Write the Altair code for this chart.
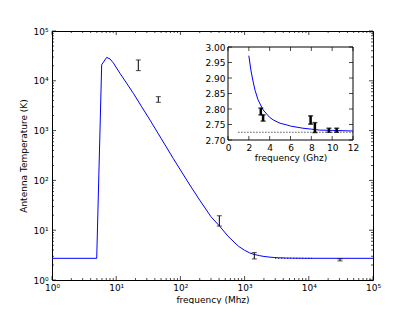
import altair as alt
import pandas as pd

# ---------------- data ----------------
# main curve: frequency (MHz) vs antenna temperature (K)
curve_freq_mhz = [1, 4.97, 5.94, 7.1, 8.0, 9.0, 11.5, 14.5, 18.5, 25, 33.7, 50, 77.5,
                  100, 150, 200, 300, 414, 550, 800, 1000, 1200, 1400, 1700, 2000, 2400,
                  2880, 3370, 4330, 5600, 7200, 8800, 12000, 30000, 100000]
curve_temp_k = [2.725, 2.725, 2.1e4, 2.95e4, 2.75e4, 2.3e4, 1.4e4, 9.0e3, 5.6e3, 3.0e3,
                1.62e3, 700, 275, 162, 70.7, 40, 18.6, 11.8, 7.6, 4.77, 3.95, 3.5, 3.27,
                3.09, 2.97, 2.89, 2.83, 2.797, 2.765, 2.749, 2.738, 2.732, 2.729, 2.726,
                2.725]

# main error bars
main_eb_freq = [22.1, 45.3, 404, 1416, 30600]
main_eb_lo = [1.6e4, 3.7e3, 12.1, 2.65, 2.42]
main_eb_hi = [2.62e4, 4.8e3, 19.5, 3.55, 2.66]

# reference level (dotted)
main_ref_freq = [3000, 12000]
main_ref_temp = [2.725, 2.725]

# inset curve: frequency (GHz) vs temperature (K)
inset_freq_ghz = [2.0, 2.2, 2.4, 2.6, 2.88, 3.37, 4.0, 4.33, 5.0, 5.6, 6.0, 7.2, 8.0,
                  8.8, 10.0, 12.0]
inset_temp_k = [2.972, 2.925, 2.89, 2.86, 2.83, 2.797, 2.773, 2.765, 2.754, 2.749,
                2.745, 2.738, 2.735, 2.732, 2.731, 2.729]

# inset error bars
inset_eb_freq = [3.15, 3.37, 7.93, 8.34, 9.69, 10.43]
inset_eb_lo = [2.781, 2.761, 2.751, 2.724, 2.725, 2.725]
inset_eb_hi = [2.803, 2.781, 2.778, 2.756, 2.738, 2.738]

inset_ref_freq = [1, 12]
inset_ref_temp = [2.725, 2.725]

# tick values
main_major = [1, 10, 100, 1000, 10000, 100000]
main_minor = [m * d for d in main_major[:-1] for m in range(2, 10)]
inset_x_ticks = [0, 2, 4, 6, 8, 10, 12]
inset_y_ticks = [2.70, 2.75, 2.80, 2.85, 2.90, 2.95, 3.00]

# ---------------- chart ----------------
W, H = 321, 249
FONT = "DejaVu Sans"
BLUE = "#0000ff"

xs = alt.Scale(type="log", domain=[1, 1e5])
ys = alt.Scale(type="log", domain=[1, 1e5])
sup = "'10' + ['\u2070','\u00b9','\u00b2','\u00b3','\u2074','\u2075'][round(log(datum.value)/LN10)]"
xax = alt.Axis(values=main_major, labelExpr=sup, ticks=False, domain=False, grid=False,
               title="frequency (Mhz)", labelPadding=3, titlePadding=3, labelFlush=False,
               orient="bottom")
yax = alt.Axis(values=main_major, labelExpr=sup, ticks=False, domain=False, grid=False,
               title="Antenna Temperature (K)", labelPadding=4, titlePadding=4,
               labelFlush=False, orient="left")

ixs = alt.Scale(domain=[0, 12], range=[176, 301], nice=False, zero=False)
iys = alt.Scale(domain=[2.7, 3.0], range=[109, 16], nice=False, zero=False)
ixax = alt.Axis(orient="bottom", offset=-140, values=inset_x_ticks, format="d", ticks=False,
                domain=False, grid=False, title="frequency (Ghz)", labelPadding=3,
                titlePadding=1, labelFlush=False)
iyax = alt.Axis(orient="left", offset=-176, values=inset_y_ticks, format=".2f", ticks=False,
                domain=False, grid=False, title="", labelPadding=3, labelFlush=False)


def xticks(vals, ydatum, size, yoff, sx, sy, ax, ay):
    return alt.Chart(pd.DataFrame({"v": vals})).mark_tick(
        orient="vertical", size=size, thickness=1, color="black", yOffset=yoff
    ).encode(
        x=alt.X("v:Q", scale=sx, axis=ax),
        y=alt.YDatum(ydatum, scale=sy, axis=ay, type="quantitative"),
    )


def yticks(vals, xdatum, size, xoff, sx, sy, ax, ay):
    return alt.Chart(pd.DataFrame({"v": vals})).mark_tick(
        orient="horizontal", size=size, thickness=1, color="black", xOffset=xoff
    ).encode(
        y=alt.Y("v:Q", scale=sy, axis=ay),
        x=alt.XDatum(xdatum, scale=sx, axis=ax, type="quantitative"),
    )


curve_df = pd.DataFrame({"f": curve_freq_mhz, "t": curve_temp_k})
main_eb_df = pd.DataFrame({"f": main_eb_freq, "lo": main_eb_lo, "hi": main_eb_hi})
main_ref_df = pd.DataFrame({"f": main_ref_freq, "t": main_ref_temp})

main_layers = [
    xticks(main_major, 1, 4, -2, xs, ys, xax, yax),
    xticks(main_minor, 1, 2, -1, xs, ys, xax, yax),
    xticks(main_major, 1e5, 4, 2, xs, ys, xax, yax),
    xticks(main_minor, 1e5, 2, 1, xs, ys, xax, yax),
    yticks(main_major, 1, 4, 2, xs, ys, xax, yax),
    yticks(main_minor, 1, 2, 1, xs, ys, xax, yax),
    yticks(main_major, 1e5, 4, -2, xs, ys, xax, yax),
    yticks(main_minor, 1e5, 2, -1, xs, ys, xax, yax),
    alt.Chart(main_ref_df).mark_line(color="black", strokeWidth=1, strokeDash=[1, 2]).encode(
        x=alt.X("f:Q", scale=xs, axis=xax), y=alt.Y("t:Q", scale=ys, axis=yax)),
    alt.Chart(curve_df).mark_line(color=BLUE, strokeWidth=1, clip=True).encode(
        x=alt.X("f:Q", scale=xs, axis=xax), y=alt.Y("t:Q", scale=ys, axis=yax)),
    alt.Chart(main_eb_df).mark_rule(color="black", strokeWidth=1).encode(
        x=alt.X("f:Q", scale=xs, axis=xax), y=alt.Y("lo:Q", scale=ys, axis=yax), y2="hi:Q"),
    alt.Chart(main_eb_df).mark_tick(orient="horizontal", size=5, thickness=1, color="black").encode(
        x=alt.X("f:Q", scale=xs, axis=xax), y=alt.Y("lo:Q", scale=ys, axis=yax)),
    alt.Chart(main_eb_df).mark_tick(orient="horizontal", size=5, thickness=1, color="black").encode(
        x=alt.X("f:Q", scale=xs, axis=xax), y=alt.Y("hi:Q", scale=ys, axis=yax)),
]
main = alt.layer(*main_layers)

inset_df = pd.DataFrame({"f": inset_freq_ghz, "t": inset_temp_k})
inset_eb_df = pd.DataFrame({"f": inset_eb_freq, "lo": inset_eb_lo, "hi": inset_eb_hi})
inset_ref_df = pd.DataFrame({"f": inset_ref_freq, "t": inset_ref_temp})

inset_layers = [
    alt.Chart(pd.DataFrame({"a": [0]})).mark_rect(fill="white", stroke="black", strokeWidth=1).encode(
        x=alt.XDatum(0, scale=ixs, axis=ixax, type="quantitative"),
        x2=alt.X2Datum(12),
        y=alt.YDatum(2.7, scale=iys, axis=iyax, type="quantitative"),
        y2=alt.Y2Datum(3.0)),
    xticks(inset_x_ticks, 2.7, 4, -2, ixs, iys, ixax, iyax),
    xticks(inset_x_ticks, 3.0, 4, 2, ixs, iys, ixax, iyax),
    yticks(inset_y_ticks, 0, 4, 2, ixs, iys, ixax, iyax),
    yticks(inset_y_ticks, 12, 4, -2, ixs, iys, ixax, iyax),
    alt.Chart(inset_ref_df).mark_line(color="black", strokeWidth=1, strokeDash=[1, 2]).encode(
        x=alt.X("f:Q", scale=ixs, axis=ixax), y=alt.Y("t:Q", scale=iys, axis=iyax)),
    alt.Chart(inset_df).mark_line(color=BLUE, strokeWidth=1).encode(
        x=alt.X("f:Q", scale=ixs, axis=ixax), y=alt.Y("t:Q", scale=iys, axis=iyax)),
    alt.Chart(inset_eb_df).mark_rule(color="black", strokeWidth=2.5).encode(
        x=alt.X("f:Q", scale=ixs, axis=ixax), y=alt.Y("lo:Q", scale=iys, axis=iyax), y2="hi:Q"),
    alt.Chart(inset_eb_df).mark_tick(orient="horizontal", size=5, thickness=1.5, color="black").encode(
        x=alt.X("f:Q", scale=ixs, axis=ixax), y=alt.Y("lo:Q", scale=iys, axis=iyax)),
    alt.Chart(inset_eb_df).mark_tick(orient="horizontal", size=5, thickness=1.5, color="black").encode(
        x=alt.X("f:Q", scale=ixs, axis=ixax), y=alt.Y("hi:Q", scale=iys, axis=iyax)),
]
inset = alt.layer(*inset_layers)

chart = alt.layer(main, inset).resolve_scale(
    x="independent", y="independent"
).properties(
    width=W, height=H,
    autosize=alt.AutoSizeParams(type="none"),
    padding={"left": 44, "top": 23, "right": 34, "bottom": 24},
).configure_view(
    stroke="black", strokeWidth=1
).configure_axis(
    labelFont=FONT, titleFont=FONT, labelFontSize=9, titleFontSize=9,
    labelColor="black", titleColor="black", titleFontWeight="normal"
)

chart.save("out.html", embed_options={"renderer": "svg", "actions": False})
